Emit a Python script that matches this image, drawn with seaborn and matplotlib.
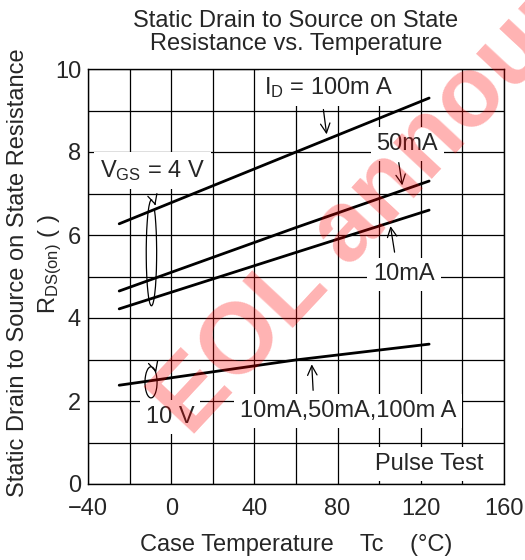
import numpy as np
import pandas as pd
import matplotlib
matplotlib.use("Agg")
import matplotlib.pyplot as plt
import seaborn as sns
from matplotlib.patches import Arc

# data
temps = [-25, 60, 124]
rds_100ma = [6.27, 8.0, 9.3]
rds_50ma = [4.65, 6.18, 7.3]
rds_10ma = [4.22, 5.58, 6.6]
rds_10v = [2.38, 2.99, 3.37]

x_ticks = [-40, 0, 40, 80, 120, 160]
y_ticks = [0, 2, 4, 6, 8, 10]

sns.set_style("white")
plt.rcParams["font.family"] = ["Liberation Sans", "DejaVu Sans"]
plt.rcParams["mathtext.fontset"] = "custom"
plt.rcParams["mathtext.rm"] = "Liberation Sans"
plt.rcParams["mathtext.it"] = "Liberation Sans"
plt.rcParams["font.size"] = 17

fig = plt.figure(figsize=(5.25, 5.6), dpi=100)
ax = fig.add_axes([88 / 525, 1 - 484 / 560, 416 / 525, 415 / 560])

for vals in [rds_100ma, rds_50ma, rds_10ma, rds_10v]:
    sns.lineplot(x=temps, y=vals, color="black", linewidth=2.0, ax=ax, zorder=3)

ax.set_xlim(-40, 160)
ax.set_ylim(0, 10)
ax.set_xticks(x_ticks)
ax.set_yticks(y_ticks)
ax.set_xticklabels([str(t).replace("-", "\u2212") for t in x_ticks])
ax.set_xticks(np.arange(-40, 161, 20), minor=True)
ax.set_yticks(np.arange(0, 11, 1), minor=True)
ax.grid(which="both", color="black", linewidth=0.9)
ax.set_axisbelow(True)
ax.tick_params(which="both", length=0, labelsize=17)
ax.tick_params(axis="x", pad=10)
ax.tick_params(axis="y", pad=5)
for s in ax.spines.values():
    s.set_color("black")
    s.set_linewidth(1.0)

ax.set_title("Static Drain to Source on State\nResistance vs. Temperature",
             fontsize=17, pad=14, linespacing=1.05)
ax.set_xlabel("Case Temperature    Tc    (°C)", fontsize=17, labelpad=10)
ax.text(-0.168, 0.51, "Static Drain to Source on State Resistance", rotation=90,
        transform=ax.transAxes, ha="center", va="center", fontsize=17)
ax.text(-0.09, 0.53, "R$_{\\mathrm{DS(on)}}$ ( )", rotation=90,
        transform=ax.transAxes, ha="center", va="center", fontsize=17)

box = dict(boxstyle="square,pad=0.25", facecolor="white", edgecolor="none")
labels = [
    ("I$_{\\mathrm{D}}$ = 100m A", 76, 9.55),
    ("50mA", 113.5, 8.2),
    ("V$_{\\mathrm{GS}}$ = 4 V", -9, 7.55),
    ("10mA", 112, 5.05),
    ("10 V", -0.5, 1.62),
    ("10mA,50mA,100m A", 85, 1.75),
    ("Pulse Test", 124, 0.48),
]
for txt, x, y in labels:
    ax.text(x, y, txt, ha="center", va="center", fontsize=17, bbox=box, zorder=2.5)

arrows = [
    ((73.0, 9.09), (74.9, 8.36)),
    ((109.2, 7.81), (111.3, 7.13)),
    ((107.6, 5.52), (105.2, 6.28)),
    ((68.3, 2.19), (67.5, 2.95)),
]
for start, end in arrows:
    ax.annotate("", xy=end, xytext=start,
                arrowprops=dict(arrowstyle="->", color="black", lw=0.9), zorder=4)

# curly brackets around the curve groups
ax.add_patch(Arc((-9.5, 5.57), 5.0, 2.55, theta1=75, theta2=395,
                 color="black", lw=0.9, zorder=4))
ax.annotate("", xy=(-7.2, 6.65), xytext=(-8.2, 6.82),
            arrowprops=dict(arrowstyle="->", color="black", lw=0.9), zorder=4)
ax.add_patch(Arc((-9.7, 2.45), 5.8, 0.75, theta1=75, theta2=395,
                 color="black", lw=0.9, zorder=4))
ax.annotate("", xy=(-6.9, 2.62), xytext=(-8.0, 2.81),
            arrowprops=dict(arrowstyle="->", color="black", lw=0.9), zorder=4)

# watermark
fig.text(190 / 525, 1 - 438 / 560, "EOL announced", rotation=47,
         rotation_mode="anchor", ha="left", va="baseline", fontsize=72,
         fontweight="bold", color="red", alpha=0.3, zorder=10)

fig.savefig("out.png", dpi=100)
